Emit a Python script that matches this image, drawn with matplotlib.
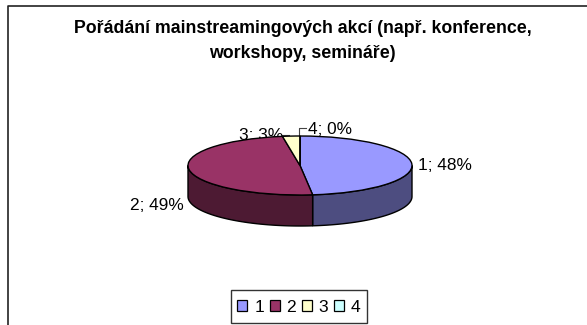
import numpy as np
import matplotlib
matplotlib.use("Agg")
import matplotlib.pyplot as plt
from matplotlib.patches import Rectangle

plt.rcParams['font.family'] = ['Liberation Sans', 'DejaVu Sans']

categories = ['1', '2', '3', '4']
values = [48.2, 49.3, 2.5, 0.0]
point_labels = ['1; 48%', '2; 49%', '3; 3%', '4; 0%']
title = 'Pořádání mainstreamingových akcí (např. konference,\nworkshopy, semináře)'
colors = ['#9999FF', '#993366', '#FFFFCC', '#CCFFFF']
side_colors = ['#4D4D80', '#4D1A33', '#80805F', '#668080']

W, H = 587, 325
fig = plt.figure(figsize=(W / 100, H / 100), dpi=100, facecolor='white')

# page frame in pixel coordinates
bg = fig.add_axes([0, 0, 1, 1])
bg.set_xlim(0, W); bg.set_ylim(H, 0); bg.axis('off')
bg.plot([7.5, 7.5, W], [H, 5.8, 5.8], color='#222222', lw=1.2)
bg.text(302.5, 41, title, ha='center', va='center', fontsize=12.8, fontweight='bold',
        linespacing=1.6, color='black')

# pie: top ellipse spans x 188..412, y 136..195; depth 31 px
cx0, cx1, top, bot, depth = 188, 412, 136, 195, 31
ry = (bot - top) / 2
low = bot + depth + 2
ylim_low = -1 - (low - bot) / ry
ax = fig.add_axes([cx0 / W, 1 - low / H, (cx1 - cx0) / W, (low - top) / H])
wedges, _ = ax.pie(values, startangle=90, counterclock=False, colors=colors,
                   radius=1, wedgeprops=dict(edgecolor='black', linewidth=1.0))
ax.set_aspect('auto')
ax.set_xlim(-1, 1); ax.set_ylim(ylim_low, 1)
ax.axis('off')
for w in wedges:
    w.set_clip_on(False); w.set_zorder(3)

d = depth / ry
frac = np.cumsum([0] + values) / sum(values)
for i in range(len(values)):
    a0 = 90 - 360 * frac[i]
    a1 = 90 - 360 * frac[i + 1]
    # keep only the part of the slice on the front half (angles 0..-180)
    hi = min(a0, 0); lo = max(a1, -180)
    if hi <= lo:
        continue
    t = np.radians(np.linspace(hi, lo, 80))
    x = np.cos(t); y = np.sin(t)
    ax.fill(np.r_[x, x[::-1]], np.r_[y, y[::-1] - d], facecolor=side_colors[i],
            edgecolor='black', lw=1.0, zorder=2, clip_on=False)

# data labels and leader lines
lab_kw = dict(fontsize=12.4, va='center', color='black')
bg.text(418, 165, point_labels[0], ha='left', **lab_kw)
bg.text(184, 206, point_labels[1], ha='right', **lab_kw)
bg.text(283, 135, point_labels[2], ha='right', **lab_kw)
bg.text(308.5, 130, point_labels[3], ha='left', **lab_kw)
bg.plot([282, 289], [134.5, 134.5], color='#444444', lw=0.8)
bg.plot([306, 299, 299], [127.5, 127.5, 137], color='#444444', lw=0.8)

# legend
bg.add_patch(Rectangle((231, 290), 136, 33, facecolor='white', edgecolor='#333333', lw=1.0))
handles = [Rectangle((0, 0), 1, 1, facecolor=c, edgecolor='black', lw=0.9) for c in colors]
leg = fig.legend(handles, categories, ncol=4, loc='center', bbox_to_anchor=(299 / W, 1 - 307 / H),
                 fontsize=12.6, frameon=False,
                 handlelength=0.57, handleheight=0.57, handletextpad=0.4, columnspacing=0.32,
                 borderpad=0.1, borderaxespad=0)

fig.savefig('out.png', dpi=100)
